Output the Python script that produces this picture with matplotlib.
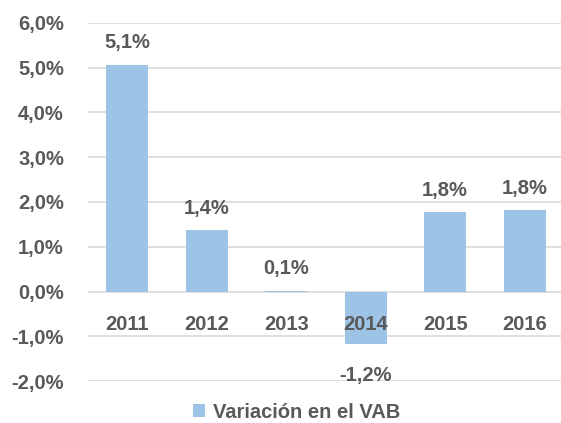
import matplotlib.pyplot as plt
from matplotlib.ticker import FuncFormatter

years = ['2011', '2012', '2013', '2014', '2015', '2016']
vab = [5.06, 1.37, 0.02, -1.18, 1.77, 1.82]
labels = ['5,1%', '1,4%', '0,1%', '-1,2%', '1,8%', '1,8%']

plt.rcParams['font.family'] = ['Liberation Sans', 'DejaVu Sans']
txt = '#595959'
blue = '#9DC3E6'
fs = 14.5

fig = plt.figure(figsize=(5.61, 4.23), dpi=100)
ax = fig.add_axes([0.156, 0.099, 0.85, 0.847])

x = range(len(years))
ax.bar(x, vab, width=0.53, color=blue, zorder=2, label='Variación en el VAB')

ax.set_ylim(-2, 6)
ax.set_xlim(-0.5, 5.5)
ax.set_yticks(range(-2, 7))
ax.yaxis.set_major_formatter(FuncFormatter(lambda v, p: f'{v:.1f}%'.replace('.', ',')))
ax.grid(axis='y', color='#D9D9D9', lw=1.2, zorder=0)
ax.set_xticks([])
for s in ax.spines.values():
    s.set_visible(False)
ax.tick_params(axis='y', length=0, pad=17, labelsize=fs, labelcolor=txt)
for t in ax.get_yticklabels():
    t.set_fontweight('bold')

for i, v in enumerate(vab):
    off = 22 if v >= 0.5 else (22 if v >= 0 else -31)
    ax.annotate(labels[i], (i, v), xytext=(0, off), textcoords='offset pixels',
                ha='center', va='center', fontsize=fs, fontweight='bold', color=txt)
    ax.annotate(years[i], (i, 0), xytext=(0, -33), textcoords='offset pixels',
                ha='center', va='center', fontsize=fs, fontweight='bold', color=txt, zorder=3)

leg = fig.legend(loc='lower center', bbox_to_anchor=(0.528, -0.04), frameon=False,
                 handlelength=0.6, handleheight=0.6, handletextpad=0.4,
                 prop={'size': fs, 'weight': 'bold'})
for t in leg.get_texts():
    t.set_color(txt)

fig.savefig('out.png', dpi=100)
